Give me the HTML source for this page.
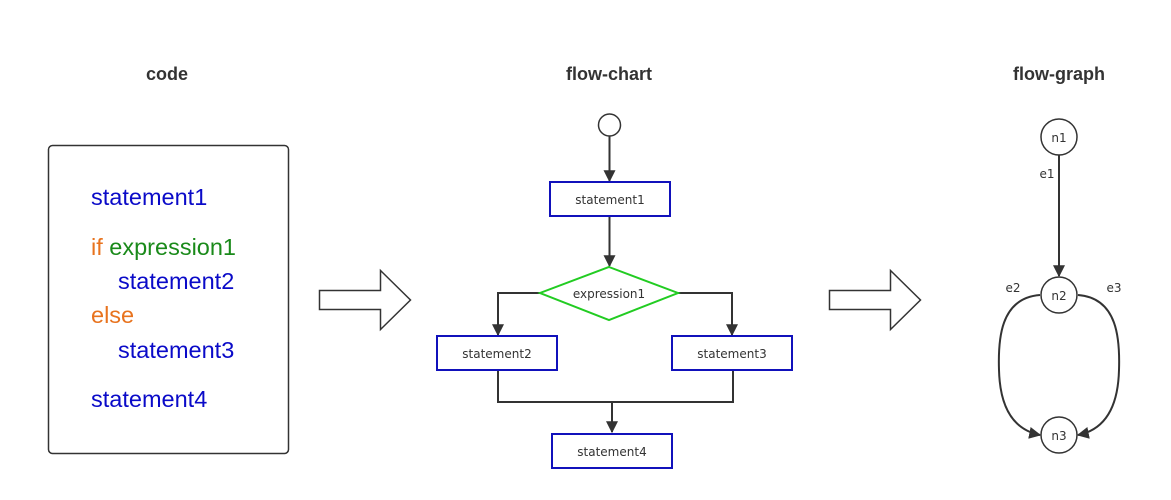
<!DOCTYPE html>
<html><head><meta charset="utf-8"><style>
body{margin:0;background:#fff;}
svg{display:block}
</style></head><body>
<svg width="1171" height="500" viewBox="0 0 1171 500" xmlns="http://www.w3.org/2000/svg">
<defs>
<marker id="a2" viewBox="0 0 10 10" refX="9" refY="5" markerWidth="12" markerHeight="12" markerUnits="userSpaceOnUse" orient="auto">
<path d="M0,0 L10,5 L0,10 z" fill="#333"/></marker>
</defs>
<g font-family="Liberation Sans, sans-serif" font-weight="bold" font-size="18" fill="#333" text-anchor="middle">
<text x="167" y="80">code</text>
<text x="609" y="80">flow-chart</text>
<text x="1059" y="80">flow-graph</text>
</g>
<rect x="48.5" y="145.5" width="240" height="308" rx="4" fill="#fff" stroke="#333" stroke-width="1.5"/>
<g font-family="Liberation Sans, sans-serif" font-size="23.5">
<text x="91" y="205" fill="#0a0ac8">statement1</text>
<text x="91" y="255" fill="#e8731e">if <tspan fill="#1a8a1a">expression1</tspan></text>
<text x="118" y="289" fill="#0a0ac8">statement2</text>
<text x="91" y="323" fill="#e8731e">else</text>
<text x="118" y="358" fill="#0a0ac8">statement3</text>
<text x="91" y="407" fill="#0a0ac8">statement4</text>
</g>
<path d="M319.5,290.5 H380.5 V270.5 L410.5,300 L380.5,329.5 V309.5 H319.5 Z" fill="#fff" stroke="#333" stroke-width="1.5"/>
<path d="M829.5,290.5 H890.5 V270.5 L920.5,300 L890.5,329.5 V309.5 H829.5 Z" fill="#fff" stroke="#333" stroke-width="1.5"/>
<g stroke="#333" stroke-width="2" fill="none">
<circle cx="609.5" cy="125" r="11" stroke-width="1.5"/>
<line x1="609.5" y1="136" x2="609.5" y2="181" marker-end="url(#a2)"/>
<line x1="609.5" y1="217" x2="609.5" y2="266" marker-end="url(#a2)"/>
<polyline points="540,293 498,293 498,335" marker-end="url(#a2)"/>
<polyline points="678,293 732,293 732,335" marker-end="url(#a2)"/>
<polyline points="498,370 498,402 733,402 733,370"/>
<line x1="612" y1="402" x2="612" y2="432" marker-end="url(#a2)"/>
</g>
<g stroke="#1111bb" stroke-width="2" fill="#fff">
<rect x="550" y="182" width="120" height="34"/>
<rect x="437" y="336" width="120" height="34"/>
<rect x="672" y="336" width="120" height="34"/>
<rect x="552" y="434" width="120" height="34"/>
</g>
<polygon points="609,267 678,293 609,320 540,293" fill="#fff" stroke="#22cc22" stroke-width="2"/>
<g font-family="DejaVu Sans, sans-serif" font-size="12" fill="#333" text-anchor="middle">
<text x="610" y="204">statement1</text>
<text x="609" y="298">expression1</text>
<text x="497" y="358">statement2</text>
<text x="732" y="358">statement3</text>
<text x="612" y="456">statement4</text>
</g>
<g stroke="#333" stroke-width="2" fill="none">
<circle cx="1059" cy="137" r="18" stroke-width="1.5"/>
<circle cx="1059" cy="295" r="18" stroke-width="1.5"/>
<circle cx="1059" cy="435" r="18" stroke-width="1.5"/>
<line x1="1059" y1="155" x2="1059" y2="276" marker-end="url(#a2)"/>
<path d="M1040,295 C1000,298 998,340 999,370 C1000,410 1015,430 1040,435" marker-end="url(#a2)"/>
<path d="M1078,295 C1118,298 1120,340 1119,370 C1118,410 1103,430 1078,435" marker-end="url(#a2)"/>
</g>
<g font-family="DejaVu Sans, sans-serif" font-size="12" fill="#333" text-anchor="middle">
<text x="1059" y="142">n1</text>
<text x="1059" y="300">n2</text>
<text x="1059" y="440">n3</text>
<text x="1047" y="178">e1</text>
<text x="1013" y="292">e2</text>
<text x="1114" y="292">e3</text>
</g>
</svg>
</body></html>
